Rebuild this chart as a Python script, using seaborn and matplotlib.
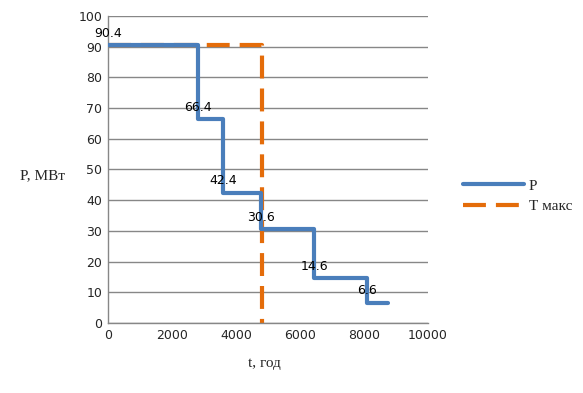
import matplotlib
matplotlib.use("Agg")
import matplotlib.pyplot as plt
import seaborn as sns
import pandas as pd

t_hours = [0, 2800, 3585, 4780, 6440, 8090, 8760]
p_values = [90.4, 66.4, 42.4, 30.6, 14.6, 6.6, 6.6]
label_values = [90.4, 66.4, 42.4, 30.6, 14.6, 6.6]
tmax_x = [0, 4800, 4800]
tmax_y = [90.4, 90.4, 0]

sns.set_style("white")
plt.rcParams['font.family'] = ['DejaVu Sans']

fig = plt.figure(figsize=(5.83, 3.93), dpi=100)
ax = fig.add_axes([108/583, 1-323/393, 320/583, 307/393])

df_p = pd.DataFrame({"t": t_hours, "P": p_values})
df_t = pd.DataFrame({"t": tmax_x, "P": tmax_y})

blue = "#4a7ebb"
orange = "#e46c0a"

sns.lineplot(data=df_t, x="t", y="P", ax=ax, sort=False, estimator=None,
             color=orange, lw=3, dashes=(5.5, 2.4), label="Т макс", zorder=2)
sns.lineplot(data=df_p, x="t", y="P", ax=ax, sort=False, estimator=None,
             color=blue, lw=3, drawstyle="steps-post", label="P", zorder=3)

for x, v in zip(t_hours, label_values):
    ax.annotate(f"{v}", (x, v), xytext=(0, 4), textcoords="offset points",
                ha="center", va="bottom", fontsize=9, color="black", zorder=4)

ax.set_xlim(0, 10000)
ax.set_ylim(0, 100)
ax.set_xticks(range(0, 10001, 2000))
ax.set_yticks(range(0, 101, 10))
ax.tick_params(axis="both", labelsize=9, length=0, pad=4)
ax.grid(axis="y", color="#878787", lw=1)
ax.set_axisbelow(True)
for s in ["top", "right"]:
    ax.spines[s].set_visible(False)
for s in ["left", "bottom"]:
    ax.spines[s].set_color("#878787")
    ax.spines[s].set_linewidth(1)

ax.set_xlabel("")
ax.set_ylabel("")
fig.text(42/583, 1-176/393, "P, МВт", ha="center", va="center",
         fontsize=11, family=["Liberation Serif"])
fig.text(264/583, 1-363/393, "t, год", ha="center", va="center",
         fontsize=11, family=["Liberation Serif"])

h, l = ax.get_legend_handles_labels()
order = [l.index("P"), l.index("Т макс")]
leg = ax.legend([h[i] for i in order], [l[i] for i in order],
                loc="center left", bbox_to_anchor=(463/583, 1-196/393),
                bbox_transform=fig.transFigure, frameon=False,
                borderpad=0, borderaxespad=0,
                prop={"family": "Liberation Serif", "size": 11},
                handlelength=4.0, handletextpad=0.3, labelspacing=0.45)

fig.savefig("out.png", dpi=100)
